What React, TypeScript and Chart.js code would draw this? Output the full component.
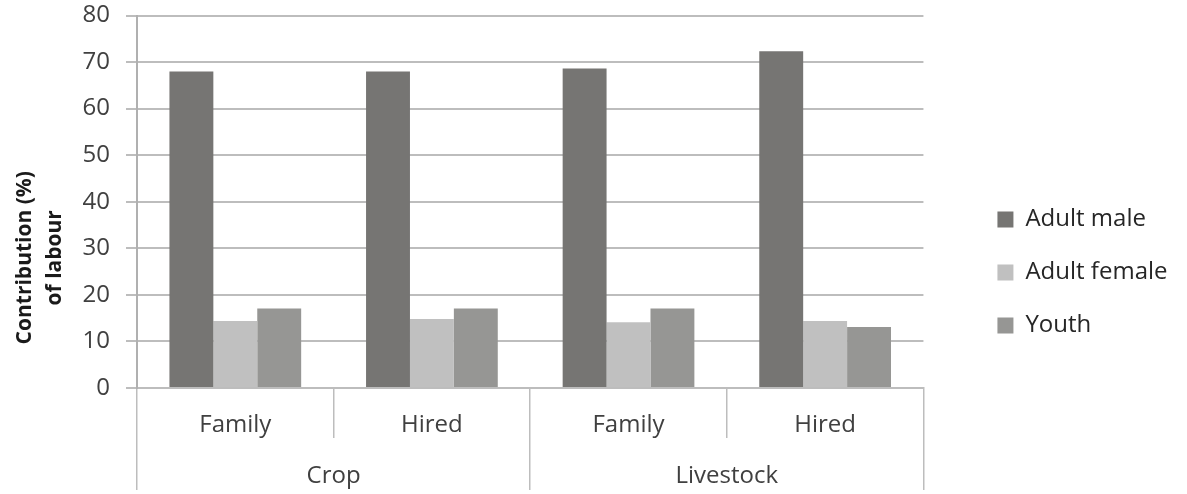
import { useEffect, useRef } from 'react';
import { Chart, registerables } from 'chart.js';

Chart.register(...registerables);

// ---- data ----
const categories = ['Family', 'Hired', 'Family', 'Hired'];
const groups = ['Crop', 'Livestock'];
const seriesNames = ['Adult male', 'Adult female', 'Youth'];
const adultMale = [68.0, 68.0, 68.6, 72.3];
const adultFemale = [14.4, 14.8, 14.1, 14.4];
const youth = [17.1, 17.1, 17.1, 13.1];
const yMin = 0;
const yMax = 80;
const yStep = 10;
const yTitleLines = ['Contribution (%)', 'of labour'];

const FONT = '"Open Sans", "DejaVu Sans", sans-serif';
const GRID = '#bdbdbd';
const colors = ['#767573', '#c0c0c0', '#969694'];

const yTitlePlugin = {
  id: 'yTitleLines',
  afterDraw(chart: any) {
    const { ctx, chartArea } = chart;
    ctx.save();
    ctx.font = `bold 21px ${FONT}`;
    ctx.fillStyle = '#1a1a1a';
    ctx.textAlign = 'center';
    ctx.textBaseline = 'middle';
    const cy = (chartArea.top + chartArea.bottom) / 2 + 56;
    const xs = [chartArea.left - 112, chartArea.left - 82];
    yTitleLines.forEach((line, i) => {
      ctx.save();
      ctx.translate(xs[i], cy);
      ctx.rotate(-Math.PI / 2);
      ctx.fillText(line, 0, 0);
      ctx.restore();
    });
    ctx.restore();
  },
};

export default function App() {
  const ref = useRef<HTMLCanvasElement | null>(null);

  useEffect(() => {
    if (!ref.current) return;
    const seriesData = [adultMale, adultFemale, youth];
    const chart = new Chart(ref.current, {
      type: 'bar',
      data: {
        labels: categories,
        datasets: seriesNames.map((name, i) => ({
          label: name,
          data: seriesData[i],
          backgroundColor: colors[i],
          borderWidth: 0,
          categoryPercentage: 0.67,
          barPercentage: 1.0,
          xAxisID: 'x',
          yAxisID: 'y',
        })),
      },
      options: {
        responsive: false,
        animation: false,
        devicePixelRatio: 1,
        layout: { padding: { left: 67, top: 15.5, right: 9.5, bottom: 0 } },
        plugins: {
          tooltip: { enabled: false },
          legend: {
            position: 'right',
            align: 'center',
            maxWidth: 260,
            title: { display: true, text: ' ', font: { size: 10 }, padding: { top: 11.8, bottom: 11.8 } },
            labels: {
              boxWidth: 16,
              boxHeight: 16,
              padding: 29,
              color: '#262626',
              font: { family: FONT, size: 24 },
            },
          },
        },
        scales: {
          x: {
            type: 'category',
            position: 'bottom',
            weight: 0,
            offset: true,
            grid: {
              display: true,
              offset: true,
              drawOnChartArea: false,
              drawTicks: true,
              tickLength: 50,
              color: GRID,
              lineWidth: 1.5,
            },
            border: { display: true, color: GRID, width: 2 },
            ticks: {
              padding: -27.4,
              color: '#404040',
              font: { family: FONT, size: 24 },
              autoSkip: false,
              maxRotation: 0,
            },
            afterFit: (s: any) => { s.height = 50; s.paddingLeft = 0; s.paddingRight = 0; },
          },
          x2: {
            type: 'category',
            labels: groups,
            position: 'bottom',
            weight: 1,
            offset: true,
            grid: {
              display: true,
              offset: true,
              drawOnChartArea: false,
              drawTicks: true,
              tickLength: 52,
              color: GRID,
              lineWidth: 1.5,
            },
            border: { display: false },
            ticks: {
              padding: -28.4,
              color: '#404040',
              font: { family: FONT, size: 24 },
              autoSkip: false,
              maxRotation: 0,
            },
            afterFit: (s: any) => { s.height = 56; s.paddingLeft = 0; s.paddingRight = 0; },
          },
          y: {
            type: 'linear',
            position: 'left',
            min: yMin,
            max: yMax,
            grid: {
              color: GRID,
              lineWidth: 2,
              drawTicks: true,
              tickLength: 11,
            },
            border: { display: true, color: '#b0b0b0', width: 2 },
            ticks: {
              stepSize: yStep,
              padding: 16,
              color: '#404040',
              font: { family: FONT, size: 24 },
            },
            afterFit: (s: any) => { s.width = 70; s.paddingTop = 0; s.paddingBottom = 0; },
          },
          y2: {
            type: 'linear',
            position: 'right',
            weight: 0,
            display: true,
            grid: { display: false, drawTicks: false },
            border: { display: false },
            ticks: { display: false },
            afterFit: (s: any) => { s.width = 45; s.paddingTop = 0; s.paddingBottom = 0; },
          },
        },
      },
      plugins: [yTitlePlugin],
    } as any);
    return () => chart.destroy();
  }, []);

  return (
    <div style={{ position: 'fixed', left: 0, top: 0, width: 1187, height: 494, background: '#fff' }}>
      <canvas ref={ref} width={1187} height={494} style={{ display: 'block', width: 1187, height: 494 }} />
    </div>
  );
}
